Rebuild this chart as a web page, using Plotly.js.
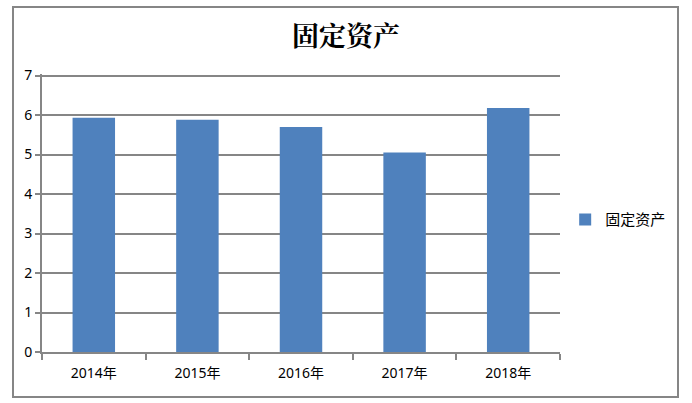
<!DOCTYPE html>
<html lang="zh">

<head>
    <meta charset="utf-8">
    <title>固定资产</title>
    <script src="https://cdn.plot.ly/plotly-3.0.1.min.js"></script>
    <style>
        body,
        html {
            margin: 0;
            padding: 0;
            background: #fff;
        }

        #frame {
            position: absolute;
            left: 12px;
            top: 6px;
            width: 663px;
            height: 388px;
            border: 2px solid #868686;
        }

        #plot {
            position: absolute;
            left: 0;
            top: 0;
        }
    </style>
</head>

<body>
    <div id="frame"></div>
    <div id="plot"></div>

    <script>
        // Values.
        const years = ['2014年', '2015年', '2016年', '2017年', '2018年'];
        const assets = [5.93, 5.88, 5.70, 5.05, 6.18];
        const seriesName = '固定资产';

        const gridGray = '#868686';
        const font = 'Noto Sans, Noto Sans CJK SC, sans-serif';

        const data = [{
            type: 'bar',
            x: years,
            y: assets,
            name: seriesName,
            marker: { color: '#4F81BD' },
            hoverinfo: 'x+y'
        }];

        const layout = {
            width: 692,
            height: 403,
            margin: { l: 42, r: 132, t: 74, b: 51 },
            paper_bgcolor: 'rgba(0,0,0,0)',
            plot_bgcolor: 'rgba(0,0,0,0)',
            bargap: 0.59,
            showlegend: true,
            title: {
                text: '<b>固定资产</b>',
                font: { family: 'Noto Serif CJK SC, Noto Sans CJK SC, serif', size: 27, color: '#000' },
                x: 0.5,
                xref: 'container',
                xanchor: 'center',
                y: 1 - 37 / 403,
                yref: 'container',
                yanchor: 'middle'
            },
            font: { family: font, size: 14, color: '#000' },
            xaxis: {
                type: 'category',
                showline: true,
                linecolor: gridGray,
                linewidth: 2,
                ticks: 'outside',
                tickson: 'boundaries',
                ticklen: 6,
                tickwidth: 2,
                tickcolor: gridGray,
                showgrid: false,
                ticklabelstandoff: 7,
                tickfont: { family: font, size: 14, color: '#000' }
            },
            yaxis: {
                range: [0, 7.04],
                tickvals: [0, 1, 2, 3, 4, 5, 6, 7],
                showline: true,
                linecolor: gridGray,
                linewidth: 2,
                ticks: 'outside',
                ticklen: 5,
                tickwidth: 2,
                tickcolor: gridGray,
                showgrid: true,
                gridcolor: gridGray,
                gridwidth: 2,
                zeroline: false,
                fixedrange: true,
                tickfont: { family: font, size: 14, color: '#000' }
            },
            legend: {
                x: 1.01,
                y: 0.476,
                xanchor: 'left',
                yanchor: 'middle',
                font: { family: font, size: 15, color: '#000' },
                itemwidth: 30
            }
        };

        Plotly.newPlot('plot', data, layout, { displayModeBar: false, staticPlot: true });
    </script>
</body>

</html>
